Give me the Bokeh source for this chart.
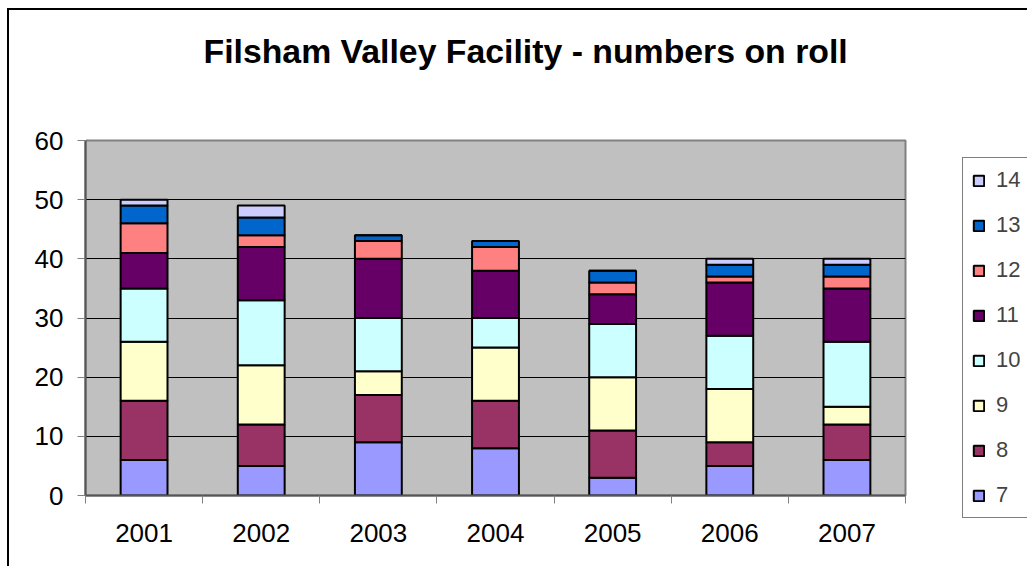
from bokeh.plotting import figure
from bokeh.models import (LinearAxis, FixedTicker, Legend, LegendItem, Range1d, Spacer, Title)
from bokeh.layouts import column, row
from bokeh.embed import file_html
from bokeh.resources import INLINE

years = ["2001", "2002", "2003", "2004", "2005", "2006", "2007"]
ages = ["7", "8", "9", "10", "11", "12", "13", "14"]
age7 = [6, 5, 9, 8, 3, 5, 6]
age8 = [10, 7, 8, 8, 8, 4, 6]
age9 = [10, 10, 4, 9, 9, 9, 3]
age10 = [9, 11, 9, 5, 9, 9, 11]
age11 = [6, 9, 10, 8, 5, 9, 9]
age12 = [5, 2, 3, 4, 2, 1, 2]
age13 = [3, 3, 1, 1, 2, 2, 2]
age14 = [1, 2, 0, 0, 0, 1, 1]
colors = ["#9999FF", "#993366", "#FFFFCC", "#CCFFFF", "#660066", "#FF8080", "#0066CC", "#CCCCFF"]
y_ticks = [0, 10, 20, 30, 40, 50, 60]
title_text = "Filsham Valley Facility - numbers on roll"

FONT = "Liberation Sans"

data = {"year": years}
for a, vals in zip(ages, [age7, age8, age9, age10, age11, age12, age13, age14]):
    data[a] = vals

p = figure(x_range=years, y_range=Range1d(0, 60), frame_width=818, frame_height=353,
           output_backend="svg", toolbar_location=None, x_axis_type=None, title=None,
           min_border_left=76, min_border_right=10, min_border_top=130,
           min_border_bottom=73)
p.styles = {"border-left": "2px solid black", "border-top": "2px solid black"}

renderers = p.vbar_stack(ages, x="year", width=0.4, source=data, color=colors,
                         line_color="black", line_width=2)

p.background_fill_color = "#C0C0C0"
p.border_fill_color = "white"
p.outline_line_color = "#808080"
p.outline_line_width = 2

# blank spacer axis between the plot area and the title (white tick, empty label)
gap = LinearAxis(ticker=FixedTicker(ticks=[0.0]), major_label_overrides={0: ""})
gap.major_tick_out = 66
gap.major_tick_in = 0
gap.major_label_standoff = 0
gap.major_label_text_font_size = "1px"
gap.axis_line_color = None
gap.major_tick_line_color = "white"
gap.minor_tick_line_color = None
p.add_layout(gap, "above")

title = Title(text=title_text, text_font=FONT, text_font_size="33.8px",
              text_font_style="bold", text_color="black", align="left",
              vertical_align="bottom", offset=118, standoff=10)
p.add_layout(title, "above")

p.yaxis.ticker = FixedTicker(ticks=y_ticks)
p.yaxis.major_label_text_font = FONT
p.yaxis.major_label_text_font_size = "26px"
p.yaxis.major_label_text_color = "black"
p.yaxis.major_tick_out = 8
p.yaxis.major_tick_in = 0
p.yaxis.minor_tick_line_color = None
p.yaxis.major_tick_line_color = "#808080"
p.yaxis.axis_line_color = "#555555"
p.yaxis.axis_line_width = 2
p.yaxis.major_label_standoff = 14

p.ygrid.ticker = FixedTicker(ticks=y_ticks)
p.ygrid.grid_line_color = "black"
p.ygrid.grid_line_width = 1
p.xgrid.grid_line_color = None

centers = [i + 0.5 for i in range(len(years))]
bounds = [float(i) for i in range(len(years) + 1)]
xaxis = LinearAxis(ticker=FixedTicker(ticks=centers, minor_ticks=bounds),
                   major_label_overrides={c: y for c, y in zip(centers, years)})
xaxis.major_tick_line_color = None
xaxis.major_tick_out = 0
xaxis.major_tick_in = 0
xaxis.minor_tick_out = 8
xaxis.minor_tick_in = 0
xaxis.minor_tick_line_color = "#808080"
xaxis.axis_line_color = "#555555"
xaxis.axis_line_width = 2
xaxis.major_label_text_font = FONT
xaxis.major_label_text_font_size = "26px"
xaxis.major_label_text_color = "black"
xaxis.major_label_standoff = 20
p.add_layout(xaxis, "below")

items = [LegendItem(label=a, renderers=[r]) for a, r in zip(ages, renderers)][::-1]
legend = Legend(items=items, location=(57, -23))
legend.label_text_font = FONT
legend.label_text_font_size = "22px"
legend.glyph_width = 13
legend.glyph_height = 13
legend.label_standoff = 11
legend.padding = 9
legend.spacing = 19
legend.margin = 0
legend.border_line_color = "black"
legend.border_line_width = 1
legend.background_fill_color = "white"
legend.background_fill_alpha = 1
p.add_layout(legend, "right")

root = column(Spacer(height=8, width=1018), row(Spacer(width=7, height=556), p))
open("out.html", "w").write(file_html(root, INLINE))
